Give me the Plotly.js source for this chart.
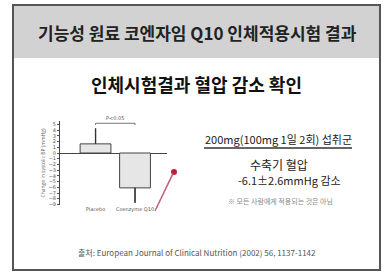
<!DOCTYPE html>
<html><head><meta charset="utf-8">
<script src="https://cdn.plot.ly/plotly-3.0.1.min.js"></script>
<style>html,body{margin:0;padding:0;background:#fff}#c{width:390px;height:273px}</style>
</head><body><div id="c"></div>
<script>
const groups = ['Placebo', 'Coenzyme Q10'];
const changeValues = [1.6, -6.1];
const errUp = [2.7, 0];
const errDown = [0, 2.6];
const yTicks = [5,4,3,2,1,0,-1,-2,-3,-4,-5,-6,-7,-8,-9];
const headerText = '기능성 원료 코엔자임 Q10 인체적용시험 결과';
const subTitle = '인체시험결과 혈압 감소 확인';
const doseText = '200mg(100mg 1일 2회) 섭취군';
const resultLine1 = '수축기 혈압';
const resultLine2 = '-6.1±2.6mmHg 감소';
const noteText = '※ 모든 사람에게 적용되는 것은 아님';
const sourceText = '출처: European Journal of Clinical Nutrition (2002) 56, 1137-1142';
const sigText = 'P<0.05';

const W = 390, H = 273;
const px = x => x / W, py = y => 1 - y / H;
const KR = '"Noto Sans CJK KR", "Noto Sans", sans-serif';

const barTrace = {
  type: 'bar', x: groups, y: changeValues, width: 0.78,
  marker: {color: '#e6e6e6', line: {color: '#444', width: 1}},
  error_y: {type: 'data', visible: true, symmetric: false, array: errUp, arrayminus: errDown,
            color: '#333', thickness: 1.2, width: 0},
  hoverinfo: 'none'
};
const whiskers = groups.map((g, i) => ({
  type: 'scatter', mode: 'lines', x: [g, g],
  y: errUp[i] > 0 ? [changeValues[i], changeValues[i] + errUp[i]] : [changeValues[i], changeValues[i] - errDown[i]],
  line: {color: '#333', width: 1.2}, hoverinfo: 'none', cliponaxis: false
}));

function ann(text, x, y, font) {
  return {text, xref: 'paper', yref: 'paper', x: px(x), y: py(y), xanchor: 'center', yanchor: 'middle',
          showarrow: false, font};
}

const layout = {
  width: W, height: H, margin: {l: 0, r: 0, t: 0, b: 0},
  paper_bgcolor: '#fff', plot_bgcolor: 'rgba(0,0,0,0)', showlegend: false,
  bargap: 0,
  xaxis: {domain: [px(60), px(167)], range: [-0.9, 1.81], type: 'category',
          showline: false, showgrid: false, ticks: '', zeroline: false,
          tickfont: {size: 5, color: '#555', family: 'DejaVu Sans'}, ticklen: 0},
  yaxis: {domain: [py(205), py(121)], range: [-9.1, 5.6],
          tickvals: yTicks, ticks: 'outside', ticklen: 2, tickcolor: '#555',
          showline: true, linecolor: '#444', linewidth: 1, showgrid: false,
          zeroline: true, zerolinecolor: '#444', zerolinewidth: 1,
          tickfont: {size: 5, color: '#555', family: 'DejaVu Sans'},
          title: {text: 'Change in systolic BP (mmHg)', font: {size: 5, color: '#666'}, standoff: 2}},
  shapes: [
    {type: 'rect', xref: 'paper', yref: 'paper', x0: px(13), x1: px(380), y0: py(58), y1: py(5),
     fillcolor: '#d2d2d2', line: {width: 0}, layer: 'below'},
    {type: 'rect', xref: 'paper', yref: 'paper', x0: px(13), x1: px(380), y0: py(270), y1: py(5),
     fillcolor: 'rgba(0,0,0,0)', line: {color: '#555', width: 2}, layer: 'below'},
    {type: 'line', xref: 'paper', yref: 'paper', x0: px(204), x1: px(352), y0: py(148), y1: py(148),
     line: {color: '#333', width: 1.5}, layer: 'below'},
    {type: 'line', xref: 'x', yref: 'y', x0: 0, x1: 1, y0: 5.2, y1: 5.2, line: {color: '#555', width: 0.8}},
    {type: 'line', xref: 'x', yref: 'y', x0: 0, x1: 0, y0: 5.2, y1: 4.9, line: {color: '#555', width: 0.8}},
    {type: 'line', xref: 'x', yref: 'y', x0: 1, x1: 1, y0: 5.2, y1: 4.9, line: {color: '#555', width: 0.8}},
    {type: 'line', xref: 'paper', yref: 'paper', x0: px(155), x1: px(173), y0: py(211), y1: py(174),
     line: {color: '#cc6078', width: 1.2}},
    {type: 'circle', xref: 'paper', yref: 'paper', x0: px(171), x1: px(177), y0: py(175), y1: py(169),
     fillcolor: '#b82040', line: {width: 0}}
  ],
  annotations: [
    ann(headerText, 197, 32, {family: KR, size: 17, color: '#222', weight: 'bold'}),
    ann(subTitle, 196, 84, {family: KR, size: 18, color: '#111', weight: 'bold'}),
    ann(doseText, 278, 139, {family: KR, size: 11, color: '#222'}),
    ann(resultLine1, 279, 164, {family: KR, size: 12, color: '#222'}),
    ann(resultLine2, 289, 180, {family: KR, size: 11, color: '#222'}),
    ann(noteText, 280, 201, {family: KR, size: 7, color: '#888'}),
    ann(sourceText, 197, 252, {family: KR, size: 8, color: '#555'}),
    {text: sigText, xref: 'x', yref: 'y', x: 0.5, y: 5.2, xanchor: 'center', yanchor: 'bottom', showarrow: false,
     font: {family: 'DejaVu Sans', size: 5, color: '#555'}},
    {text: ' ', xref: 'paper', yref: 'paper', x: px(173), y: py(173), showarrow: true,
     axref: 'pixel', ayref: 'pixel', ax: -18, ay: 38, arrowhead: 0, arrowwidth: 1.2,
     arrowcolor: '#cc6078', standoff: 0, startstandoff: 0, font: {size: 1}}
  ]
};
Plotly.newPlot('c', [barTrace].concat(whiskers), layout, {staticPlot: true, displayModeBar: false});
</script></body></html>
